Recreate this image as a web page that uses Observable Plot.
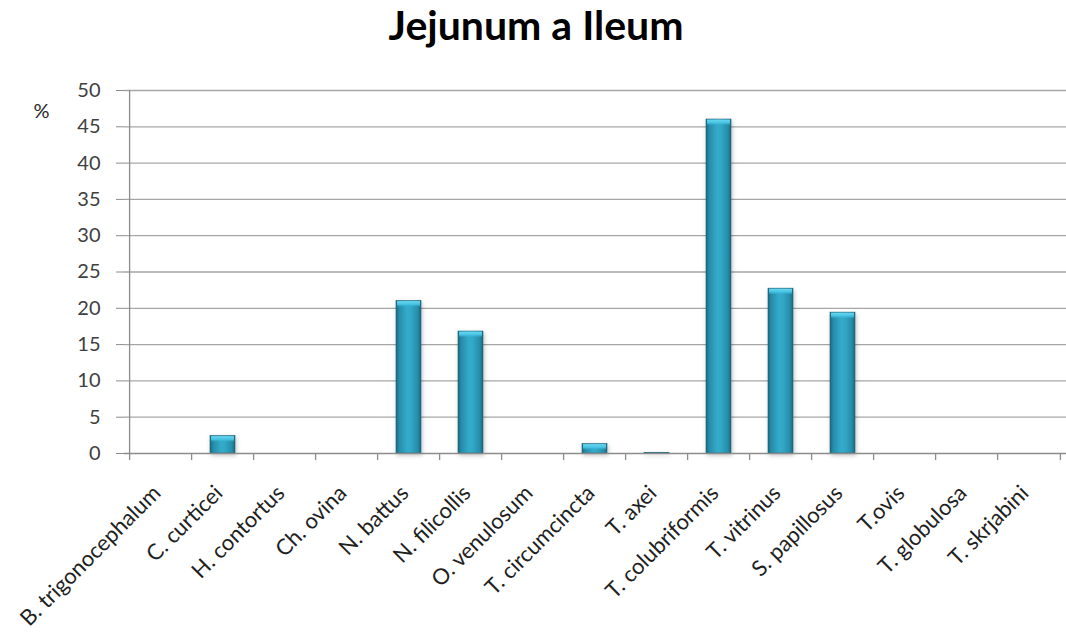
<!DOCTYPE html>
<html>
<head>
<meta charset="utf-8">
<script src="https://cdn.jsdelivr.net/npm/d3@7"></script>
<script src="https://cdn.jsdelivr.net/npm/@observablehq/plot@0.6"></script>
<style>
  html, body { margin: 0; padding: 0; background: #fff; }
  #wrap { width: 1066px; position: relative; }
  #title { height: 60px; line-height: 56px; text-align: center; font: bold 41px Lato, "Open Sans", sans-serif; color: #000; padding-left: 6px; box-sizing: border-box; }
</style>
</head>
<body>
<div id="wrap">
  <div id="title">Jejunum a Ileum</div>
  <div id="chart"></div>
</div>
<script>
// Species found in jejunum and ileum, share of positive samples (%)
const species = [
  "B. trigonocephalum", "C. curticei", "H. contortus", "Ch. ovina", "N. battus",
  "N. filicollis", "O. venulosum", "T. circumcincta", "T. axei", "T. colubriformis",
  "T. vitrinus", "S. papillosus", "T.ovis", "T. globulosa", "T. skrjabini"
];
const percent = [0, 2.4, 0, 0, 21.0, 16.8, 0, 1.3, 0.1, 46.0, 22.7, 19.4, 0, 0, 0];
const yTicks = [0, 5, 10, 15, 20, 25, 30, 35, 40, 45, 50];

const data = species.map((name, i) => ({name, value: percent[i]}));

const width = 1066, height = 581;
const marginLeft = 124, marginRight = 0, marginTop = 30, marginBottom = 188;
const step = (width - marginLeft - marginRight) / species.length;
const font = "Lato, 'Open Sans', sans-serif";
const axisGrey = "#8c8c8c";

const plot = Plot.plot({
  width, height, marginLeft, marginRight, marginTop, marginBottom,
  style: {fontFamily: font, fontSize: "20px", color: "#404040", background: "#fff"},
  x: {domain: species, paddingInner: 0.59, paddingOuter: 0.295, label: null},
  y: {domain: [0, 50], ticks: yTicks, label: null},
  marks: [
    // horizontal gridlines
    Plot.ruleY(yTicks.filter(d => d > 0), {stroke: "#a6a6a6", strokeWidth: 1.3}),
    // category boundary ticks below the baseline
    Plot.ruleX(species, {x: d => d, dx: -step / 2, y1: 0, y2: 0, insetTop: 7, stroke: axisGrey, strokeWidth: 1.3}),
    Plot.ruleX(species.slice(-1), {x: d => d, dx: step / 2, y1: 0, y2: 0, insetTop: 7, stroke: axisGrey, strokeWidth: 1.3}),
    // vertical axis line
    Plot.ruleX(species.slice(0, 1), {x: d => d, dx: -step / 2, y1: 0, y2: 50, stroke: axisGrey, strokeWidth: 1.3}),
    // bars, with a soft shadow and a lighter bevelled top
    Plot.barY(data, {x: "name", y: "value", fill: "url(#barGrad)", stroke: "#1b6378", strokeWidth: 0.6, filter: d => d.value > 0,
      render: (index, scales, values, dims, context, next) => {
        const g = next(index, scales, values, dims, context);
        g.setAttribute("filter", "url(#barShadow)");
        return g;
      }}),
    Plot.barY(data.filter(d => d.value >= 1), {x: "name", y1: d => d.value - 0.9, y2: "value", fill: "url(#capGrad)", insetLeft: 1, insetRight: 1, insetTop: 0.6}),
    // baseline
    Plot.ruleY([0], {stroke: axisGrey, strokeWidth: 1.3}),
    Plot.axisY({ticks: yTicks, tickSize: 8, tickPadding: 16, stroke: axisGrey, fill: "#404040", fontSize: 20}),
    Plot.axisX({tickRotate: -45, tickSize: 0, tickPadding: 36, dx: -4, fill: "#1f1f1f", fontSize: 22}),
    Plot.text(["%"], {frameAnchor: "top-left", dx: -91, dy: 13, fill: "#262626", fontSize: 20})
  ]
});

// gradients and shadow used by the bars
const svg = d3.select(plot);
const defs = svg.insert("defs", ":first-child");
const g = defs.append("linearGradient").attr("id", "barGrad").attr("x1", "0").attr("x2", "1").attr("y1", "0").attr("y2", "0");
[["0%", "#1a6579"], ["12%", "#268ca8"], ["45%", "#34abcc"], ["60%", "#32a7c7"], ["88%", "#268ca8"], ["100%", "#1a6579"]]
  .forEach(([o, c]) => g.append("stop").attr("offset", o).attr("stop-color", c));
const cap = defs.append("linearGradient").attr("id", "capGrad").attr("x1", "0").attr("x2", "0").attr("y1", "0").attr("y2", "1");
[["0%", "#6ad8f2", 1], ["55%", "#48c6e6", 0.9], ["100%", "#35aecf", 0]]
  .forEach(([o, c, a]) => cap.append("stop").attr("offset", o).attr("stop-color", c).attr("stop-opacity", a));
const shadow = defs.append("filter").attr("id", "barShadow").attr("x", "-30%").attr("y", "-10%").attr("width", "160%").attr("height", "130%");
shadow.append("feDropShadow").attr("dx", 1).attr("dy", 2).attr("stdDeviation", 2).attr("flood-color", "#000").attr("flood-opacity", 0.25);
document.getElementById("chart").appendChild(plot);
</script>
</body>
</html>
